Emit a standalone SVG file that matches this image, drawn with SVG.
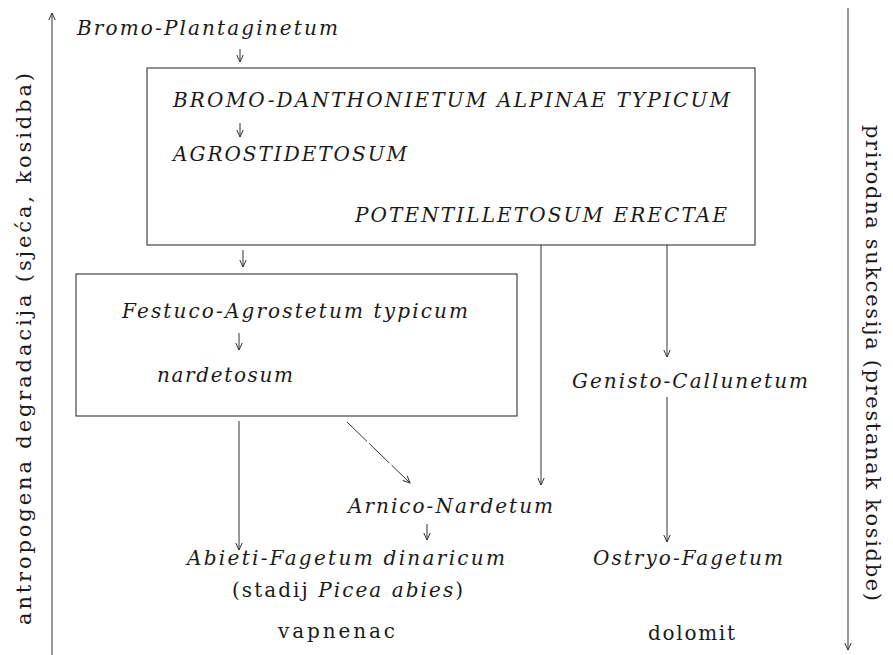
<svg xmlns="http://www.w3.org/2000/svg" width="893" height="655" viewBox="0 0 893 655">
<defs>
<marker id="ah" viewBox="-9 -5 10 10" refX="0" refY="0" markerWidth="10" markerHeight="10" markerUnits="userSpaceOnUse" orient="auto">
<path d="M-7,-3.2 L0,0 L-7,3.2" fill="none" stroke="#333" stroke-width="1"/>
</marker>
</defs>
<style>
text{font-family:"DejaVu Serif","Liberation Serif",serif;fill:#1a1a1a}
.it{font-style:italic;font-size:20px}
.up{font-size:20px}
.ax{font-size:21px}
.box{fill:none;stroke:#333;stroke-width:1.1}
.ln{fill:none;stroke:#333;stroke-width:1;marker-end:url(#ah)}
</style>
<rect width="893" height="655" fill="#fff"/>
<g id="axis-left">
<line class="ln" x1="52" y1="655" x2="52" y2="13"/>
<text class="ax" transform="translate(31,625) rotate(-90)" textLength="552">antropogena degradacija (sjeća, kosidba)</text>
</g>
<g id="axis-right">
<line class="ln" x1="848" y1="8" x2="848" y2="650"/>
<text class="ax" transform="translate(866,125) rotate(90)" textLength="476">prirodna sukcesija (prestanak kosidbe)</text>
</g>
<g id="bromo-plantaginetum">
<text class="it" x="77" y="35" textLength="261">Bromo-Plantaginetum</text>
</g>
<g id="box-bromo-danthonietum">
<rect class="box" x="147" y="68" width="608" height="177"/>
<text class="it" x="173" y="107" textLength="557">BROMO-DANTHONIETUM ALPINAE TYPICUM</text>
<text class="it" x="173" y="161" textLength="234">AGROSTIDETOSUM</text>
<text class="it" x="355" y="222" textLength="372">POTENTILLETOSUM ERECTAE</text>
</g>
<g id="box-festuco-agrostetum">
<rect class="box" x="76" y="274" width="441" height="142"/>
<text class="it" x="122" y="318" textLength="346">Festuco-Agrostetum typicum</text>
<text class="it" x="157" y="382" textLength="136">nardetosum</text>
</g>
<g id="genisto-callunetum">
<text class="it" x="572" y="388" textLength="236">Genisto-Callunetum</text>
</g>
<g id="arnico-nardetum">
<text class="it" x="348" y="513" textLength="205">Arnico-Nardetum</text>
</g>
<g id="abieti-fagetum">
<text class="it" x="187" y="565" textLength="318">Abieti-Fagetum dinaricum</text>
<text class="up" x="232" y="597" textLength="231">(stadij <tspan font-style="italic">Picea abies</tspan>)</text>
</g>
<g id="ostryo-fagetum">
<text class="it" x="593" y="565" textLength="190">Ostryo-Fagetum</text>
</g>
<g id="vapnenac">
<text class="up" x="278" y="638" textLength="117">vapnenac</text>
</g>
<g id="dolomit">
<text class="up" x="648" y="640" textLength="87">dolomit</text>
</g>
<g id="connectors">
<line class="ln" x1="240" y1="49" x2="240" y2="62"/>
<line class="ln" x1="240" y1="123" x2="240" y2="137"/>
<line class="ln" x1="243" y1="250" x2="243" y2="267"/>
<line class="ln" x1="239" y1="333" x2="239" y2="350"/>
<line class="ln" x1="239" y1="421" x2="239" y2="550"/>
<line class="ln" x1="347" y1="422" x2="410" y2="483" stroke-dasharray="28 3"/>
<line class="ln" x1="541" y1="245" x2="541" y2="485"/>
<line class="ln" x1="667" y1="245" x2="667" y2="357"/>
<line class="ln" x1="667" y1="397" x2="667" y2="542"/>
<line class="ln" x1="427" y1="524" x2="427" y2="540"/>
</g>
</svg>
